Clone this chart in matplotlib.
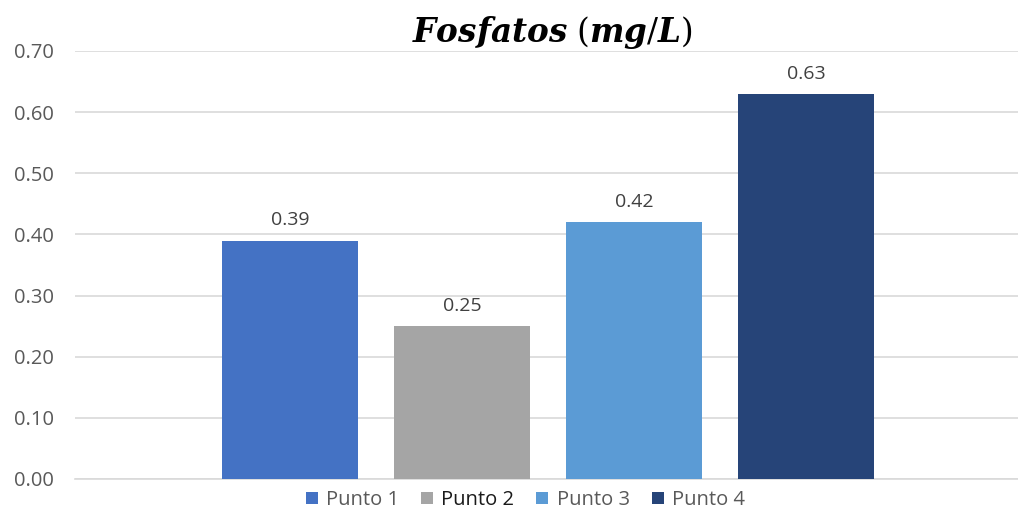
import matplotlib
matplotlib.use("Agg")
import matplotlib.pyplot as plt
from matplotlib.patches import Patch

# Phosphate concentration per sampling point
puntos = ["Punto 1", "Punto 2", "Punto 3", "Punto 4"]
fosfatos = [0.39, 0.25, 0.42, 0.63]
colores = ["#4472C4", "#A5A5A5", "#5B9BD5", "#264478"]
yticks = [0.0, 0.1, 0.2, 0.3, 0.4, 0.5, 0.6, 0.7]

plt.rcParams["font.family"] = ["Open Sans", "DejaVu Sans"]
plt.rcParams["mathtext.fontset"] = "dejavuserif"

gris = "#595959"

fig = plt.figure(figsize=(10.18, 5.31), dpi=100)
ax = fig.add_axes([75 / 1018, 52 / 531, 943 / 1018, 428 / 531])

x = list(range(len(puntos)))
ax.bar(x, fosfatos, width=0.79, color=colores, zorder=3)

for xi, v in zip(x, fosfatos):
    ax.annotate(f"{v:.2f}", (xi, v), xytext=(0, 8), textcoords="offset points",
                ha="center", va="bottom", fontsize=14, color="#404040")

ax.set_xlim(-1.25, 4.23)
ax.set_ylim(0, 0.70)
ax.set_yticks(yticks)
ax.set_yticklabels([f"{t:.2f}" for t in yticks])
ax.tick_params(axis="y", length=0, pad=15, labelsize=14.5, labelcolor=gris)
ax.set_xticks([])
ax.yaxis.grid(True, color="#D9D9D9", linewidth=1.2, zorder=0)
for s in ["left", "right", "top"]:
    ax.spines[s].set_visible(False)
ax.spines["bottom"].set_color("#D9D9D9")
ax.spines["bottom"].set_linewidth(1.2)

fig.text(0.543, 0.938, r"$\mathbfit{Fosfatos}\ (\mathbfit{mg}/\mathbfit{L})$",
         ha="center", va="center", fontsize=23.5, color="black")

handles = [Patch(facecolor=c, edgecolor="none") for c in colores]
leg = fig.legend(handles, puntos, loc="center", bbox_to_anchor=(0.516, 0.058),
                 ncol=4, frameon=False, fontsize=14.5, handlelength=0.6,
                 handleheight=0.6, handletextpad=0.4, columnspacing=1.1)
for i, t in enumerate(leg.get_texts()):
    t.set_color("#1a1a1a" if i == 1 else gris)

fig.savefig("out.png", dpi=100)
